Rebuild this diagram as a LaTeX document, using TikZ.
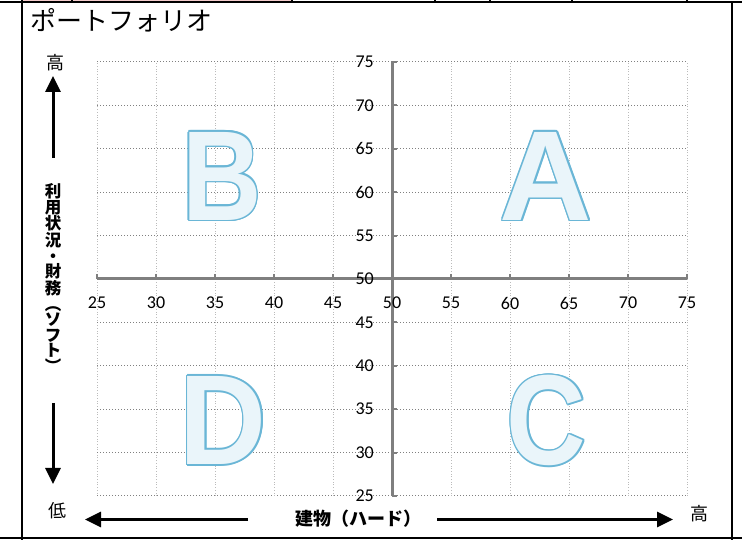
\documentclass[tikz,border=0pt]{standalone}
\usepackage{fontspec}
\usepackage{contour}
\usetikzlibrary{arrows.meta}
\setmainfont{Carlito}
\newfontfamily\jp{Noto Sans CJK JP}
\newfontfamily\bigfont{Liberation Sans}
\definecolor{gridh}{HTML}{808080}
\definecolor{gridv}{HTML}{BBBBBB}
\definecolor{axisgray}{HTML}{7F7F7F}
\definecolor{letterline}{HTML}{6AB6D6}
\definecolor{letterfill}{HTML}{EAF5FA}
\definecolor{cellpink}{HTML}{F4CCCC}
\contourlength{1.6pt}
\contournumber{12}

\begin{document}
\begin{tikzpicture}[x=1pt,y=1pt,
    rahmen/.style={line width=2pt},
    pfeil/.style={line width=3pt,-{Triangle[length=16pt,width=15pt]}},
    achse/.style={draw=axisgray,line width=3pt},
    jtext/.style={font=\jp\fontsize{18}{18}\selectfont, inner sep=0pt},
    jbold/.style={font=\jp\bfseries\fontsize{18}{18}\selectfont, inner sep=0pt},
    zahl/.style={font=\fontsize{18}{18}\selectfont, inner sep=0pt},
    buchst/.style={font=\bigfont\bfseries\fontsize{128}{128}\selectfont, inner sep=0pt}
  ]
  \useasboundingbox (0,0) rectangle (742,540);
  % frame and table remains
  \fill[cellpink] (22,538) rectangle (292,540);
  \draw[rahmen] (0,537.5) -- (742,537.5);
  \draw[rahmen] (0,2) -- (742,2);
  \draw[rahmen] (22,0) -- (22,540);
  \draw[rahmen] (732,0) -- (732,537.5);
  \foreach \t in {72,292,435,490,572,687}
    \draw[line width=1.2pt] (\t,537.5) -- (\t,540);

  % chart in data units
  \begin{scope}[shift={(-198,-173)}, x=11.8pt, y=8.68pt]
    \foreach \v in {25,30,...,75} {
      \draw[gridv, dotted, line width=0.7pt] (\v,25) -- (\v,75);
      \draw[gridh, dotted, line width=1pt] (25,\v) -- (75,\v);
    }
    \draw[achse] (25,50) -- (75,50);
    \draw[achse] (50,25) -- (50,75);
    \foreach \v in {25,30,...,75} {
      \draw[axisgray, line width=2pt] (\v,50) -- ++(0pt,5pt);
      \draw[axisgray, line width=2pt] (50,\v) -- ++(5pt,0pt);
      \path (\v,50) ++(0pt,-24pt) node[zahl] (xl\v) {\v};
      \path (50,\v) ++(-18pt,0pt) node[zahl, anchor=east] (yl\v) {\v};
    }
    \path (63.05,61.75) node[buchst] (qa) {\contour{letterline}{\textcolor{letterfill}{A}}}
          (35.6,61.75) node[buchst] (qb) {\scalebox{0.86}[1]{\contour{letterline}{\textcolor{letterfill}{B}}}}
          (63.1,33.6) node[buchst] (qc) {\scalebox{0.86}[1]{\contour{letterline}{\textcolor{letterfill}{C}}}}
          (35.7,33.6) node[buchst] (qd) {\scalebox{0.94}[1]{\contour{letterline}{\textcolor{letterfill}{D}}}};
  \end{scope}

  % labels
  \path (30,520) node[anchor=west, font=\jp\fontsize{26}{26}\selectfont, inner sep=0pt] (titel) {ポートフォリオ}
        (55,477) node[jtext] (hochv) {高}
        (57,29) node[jtext] (tief) {低}
        (699,26) node[jtext] (hochh) {高}
        (358,21) node[jbold] (hard) {建物（ハード）}
        (53,262) node[jbold, align=center, font=\jp\bfseries\fontsize{16.5}{15.6}\selectfont] (soft)
          {利\\用\\状\\況\\・\\財\\務\\︵\\ソ\\フ\\ト\\︶};

  % arrows
  \coordinate (up0) at (53,382);
  \coordinate (up1) at (53,464);
  \coordinate (dn0) at (53,137);
  \coordinate (dn1) at (53,56);
  \coordinate (lf0) at (248,20.5);
  \coordinate (lf1) at (85,20.5);
  \coordinate (rt0) at (437,20.5);
  \coordinate (rt1) at (673,20.5);
  \draw[pfeil] (up0) -- (up1);
  \draw[pfeil] (dn0) -- (dn1);
  \draw[pfeil] (lf0) -- (lf1);
  \draw[pfeil] (rt0) -- (rt1);
\end{tikzpicture}
\end{document}
